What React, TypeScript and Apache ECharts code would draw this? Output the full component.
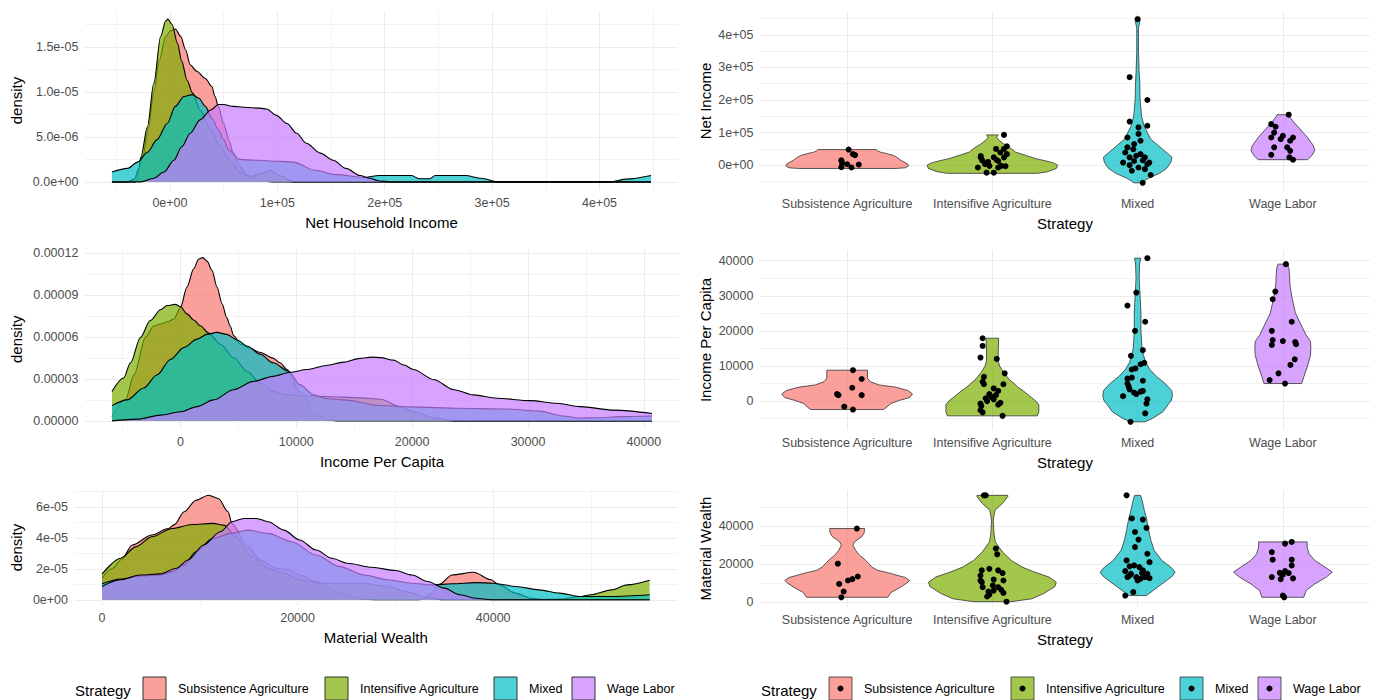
import React, { useEffect, useRef } from 'react';
import * as echarts from 'echarts';

type Pair = [number, number];

const strategies = ['Subsistence Agriculture', 'Intensifive Agriculture', 'Mixed', 'Wage Labor'];
const strategyColors = ['#F8766D', '#7CAE00', '#00BFC4', '#C77CFF'];

// ---- Density curves: [value in thousands, density in units of 1e-5] ----
const netIncomeDensitySubsistence: Pair[] = [
  [-54, 0], [-32, 0], [-25, 0.3], [-20, 0.6], [-15, 1.0], [-10, 1.35], [-4, 1.62], [0.6, 1.68], [5, 1.7],
  [10, 1.62], [14.5, 1.47], [19, 1.3], [25, 1.23], [33, 1.15], [39, 1.06], [42, 0.95], [45, 0.84], [50, 0.65],
  [55, 0.46], [59, 0.32], [65, 0.17], [72, 0.07], [84, 0.02], [95, 0], [448, 0],
];
const netIncomeDensityIntensive: Pair[] = [
  [-54, 0], [-40, 0], [-33, 0.03], [-29, 0.15], [-27, 0.28], [-21, 0.61], [-15, 1.1], [-8.6, 1.62], [-4, 1.79],
  [-2, 1.81], [2, 1.75], [7, 1.54], [11, 1.34], [16, 1.13], [21, 0.99], [28, 0.8], [38, 0.58], [47, 0.39],
  [56, 0.24], [65, 0.11], [75, 0.06], [84, 0.09], [93, 0.13], [102, 0.07], [115, 0], [448, 0],
];
const netIncomeDensityMixed: Pair[] = [
  [-54, 0.11], [-39.5, 0.15], [-30, 0.22], [-21, 0.33], [-12, 0.47], [-2.5, 0.65], [5, 0.84], [13, 0.95], [21, 0.97],
  [27, 0.93], [33, 0.84], [39, 0.71], [45, 0.58], [50, 0.47], [55, 0.35], [65, 0.25], [80, 0.24], [100, 0.23],
  [115, 0.22], [135, 0.13], [155, 0.08], [180, 0.05], [195, 0.07], [225, 0.07], [232, 0.035], [242, 0.035],
  [247, 0.07], [275, 0.07], [290, 0.04], [305, 0], [410, 0], [425, 0.03], [448, 0.07],
];
const netIncomeDensityWage: Pair[] = [
  [-54, 0], [-27, 0], [-15, 0.04], [-5.5, 0.11], [3.7, 0.24], [11, 0.39], [19, 0.54], [28, 0.69], [38, 0.8],
  [45, 0.86], [50, 0.86], [59, 0.84], [69, 0.83], [84, 0.82], [90, 0.81], [99, 0.74], [109, 0.65], [118, 0.54],
  [127, 0.43], [140, 0.32], [152, 0.24], [164, 0.15], [177, 0.07], [186, 0.04], [195, 0.01], [205, 0], [448, 0],
];

const perCapitaDensitySubsistence: Pair[] = [
  [-5.9, 0.3], [-4.74, 1.5], [-4.0, 3.3], [-3.0, 6.0], [-2.3, 6.8], [-1.72, 6.94], [-1.1, 7.1], [-0.57, 7.3],
  [0, 8.1], [0.57, 9.6], [1.15, 10.9], [1.58, 11.6], [1.95, 11.7], [2.3, 11.45], [2.73, 10.8], [3.16, 9.6],
  [3.6, 8.4], [4.0, 7.4], [4.3, 6.8], [4.6, 6.1], [5.2, 5.5], [6.0, 5.2], [6.9, 4.9], [8.0, 4.5], [8.6, 4.16],
  [9.2, 3.68], [10.3, 2.1], [11.5, 0.65], [12.6, 0.05], [13.5, 0], [40.7, 0],
];
const perCapitaDensityIntensive: Pair[] = [
  [-5.9, 2.1], [-4.9, 3.07], [-4.3, 4.16], [-3.45, 5.98], [-2.6, 7.19], [-1.72, 7.96], [-1.15, 8.27], [-0.43, 8.35],
  [0, 8.2], [0.57, 7.67], [1.15, 7.23], [1.72, 6.82], [2.44, 6.29], [3.45, 5.49], [4.6, 4.52], [5.75, 3.56],
  [6.9, 2.71], [8.05, 2.1], [9.2, 1.86], [10.3, 1.8], [12.6, 1.75], [15.5, 1.65], [17.3, 1.55], [19, 1.0],
  [20.1, 0.65], [22, 0.2], [23.6, 0], [40.7, 0],
];
const perCapitaDensityMixed: Pair[] = [
  [-5.9, 1.09], [-4.6, 1.5], [-3.16, 2.35], [-2.0, 3.3], [-0.86, 4.4], [0.29, 5.25], [1.44, 5.86], [2.3, 6.2],
  [3.16, 6.34], [4.0, 6.2], [4.9, 5.8], [5.75, 5.37], [6.9, 4.77], [8.0, 4.16], [9.34, 3.56], [10.3, 2.6],
  [11.5, 1.86], [12.6, 1.6], [14.1, 1.5], [17.3, 1.1], [20, 1.0], [24, 0.9], [28, 0.85], [31, 0.7], [33, 0.35],
  [34.5, 0.2], [36, 0.22], [38, 0.3], [40.7, 0.35],
];
const perCapitaDensityWage: Pair[] = [
  [-5.9, 0], [-3.7, 0.12], [-1.7, 0.41], [0, 0.65], [1.44, 1.02], [2.87, 1.5], [4.6, 2.23], [6.3, 2.83], [8.0, 3.19],
  [9.5, 3.48], [10.9, 3.68], [12.6, 3.97], [14.1, 4.21], [15.5, 4.48], [16.5, 4.57], [17.3, 4.53], [18.4, 4.35],
  [19.3, 4.0], [20.1, 3.68], [21.9, 2.95], [23.6, 2.23], [25.3, 1.86], [27.3, 1.62], [30.2, 1.45], [32.5, 1.26],
  [34.5, 1.02], [37.4, 0.77], [40.7, 0.53],
];

const wealthDensitySubsistence: Pair[] = [
  [0, 1.4], [1, 2.0], [2, 2.6], [3.1, 3.54], [5.1, 4.18], [6.8, 4.6], [7.4, 4.85], [8.4, 5.68], [9.6, 6.43],
  [10.9, 6.75], [11.9, 6.54], [12.9, 5.68], [13.3, 4.9], [14.9, 3.43], [16.2, 2.57], [17.8, 2.04], [19.0, 1.97],
  [20.2, 1.6], [21.9, 1.18], [24.3, 0.43], [26.8, 0.04], [28, 0], [32.5, 0], [33.5, 0.3], [34.5, 1.0], [35.8, 1.6],
  [38.0, 1.78], [39.8, 1.29], [40.6, 0.96], [42.3, 0.43], [43.9, 0.1], [45.5, 0], [56, 0],
];
const wealthDensityIntensive: Pair[] = [
  [0, 1.65], [1.9, 2.68], [3.5, 3.43], [5.1, 4.07], [7.2, 4.6], [9.2, 4.86], [11.3, 4.93], [12.5, 4.82], [13.7, 4.07],
  [15.3, 2.79], [17.0, 2.04], [18.6, 1.71], [20.2, 1.29], [22.3, 1.07], [24.3, 1.07], [26.8, 1.07], [29.2, 0.86],
  [31.3, 0.5], [33, 0.15], [35, 0], [44, 0], [47, 0.05], [48.8, 0.21], [50, 0.32], [52.1, 0.64], [53.7, 0.96],
  [56, 1.26],
];
const wealthDensityMixed: Pair[] = [
  [0, 1.03], [1.9, 1.33], [3.9, 1.54], [6.0, 1.6], [7.2, 1.82], [8.4, 2.25], [9.6, 3.1], [11.3, 3.96], [13.3, 4.3],
  [14.9, 4.5], [17.0, 4.29], [19.4, 3.75], [21.9, 2.89], [24.3, 2.14], [26.8, 1.6], [29.2, 1.29], [31.7, 1.07],
  [33.7, 0.96], [35.8, 1.03], [38.2, 1.11], [40, 1.07], [42.3, 0.86], [44.7, 0.64], [46.8, 0.43], [48.8, 0.21],
  [52.1, 0.21], [56, 0.32],
];
const wealthDensityWage: Pair[] = [
  [0, 0.86], [1.9, 1.29], [3.9, 1.6], [6.0, 1.67], [7.6, 2.04], [8.8, 2.57], [10.4, 3.54], [12.1, 4.39], [13.3, 5.04],
  [14.5, 5.25], [15.8, 5.25], [17.0, 5.04], [18.6, 4.5], [20.2, 3.86], [21.9, 3.21], [23.5, 2.68], [25.1, 2.36],
  [27.6, 2.1], [30.0, 1.89], [31.7, 1.6], [33.3, 1.18], [35.0, 0.75], [36.6, 0.32], [38.2, 0.1], [39.8, 0], [56, 0],
];

// ---- Violin outlines: [value in thousands, half width in category units] ----
const netIncomeViolinSubsistence: Pair[] = [
  [-10, 0.33], [-8, 0.4], [-3, 0.42], [2, 0.42], [8, 0.4], [15, 0.37], [22, 0.35], [30, 0.32], [36, 0.27],
  [40, 0.23], [44, 0.21], [48, 0.2],
];
const netIncomeViolinIntensive: Pair[] = [
  [-25, 0.31], [-20, 0.38], [-10, 0.44], [0, 0.45], [7, 0.42], [13, 0.37], [20, 0.3], [30, 0.23], [40, 0.16],
  [54, 0.12], [65, 0.08], [75, 0.05], [85, 0.03], [90, 0.035], [93, 0.04],
];
const netIncomeViolinMixed: Pair[] = [
  [-54, 0.03], [-50, 0.035], [-40, 0.075], [-25, 0.15], [-10, 0.2], [10, 0.23], [25, 0.235], [50, 0.17],
  [80, 0.09], [120, 0.045], [150, 0.027], [200, 0.017], [250, 0.015], [290, 0.01], [350, 0.006], [420, 0.006],
  [440, 0.015], [448, 0.015],
];
const netIncomeViolinWage: Pair[] = [
  [17, 0.17], [30, 0.2], [45, 0.22], [60, 0.21], [85, 0.17], [100, 0.14], [120, 0.1], [135, 0.07], [150, 0.045],
  [155, 0.04],
];

const perCapitaViolinSubsistence: Pair[] = [
  [-2.4, 0.25], [-1.8, 0.27], [-0.7, 0.3], [0.2, 0.36], [1.0, 0.43], [2.0, 0.45], [3.0, 0.42], [4.0, 0.33],
  [4.6, 0.22], [5.5, 0.16], [6.5, 0.14], [8.8, 0.14],
];
const perCapitaViolinIntensive: Pair[] = [
  [-4.2, 0.31], [-3, 0.32], [-1, 0.32], [0, 0.3], [1, 0.27], [2, 0.24], [3, 0.21], [4, 0.175], [5, 0.15], [6, 0.12],
  [7, 0.1], [8, 0.08], [9, 0.065], [10, 0.05], [11, 0.043], [12, 0.04], [14, 0.04], [16, 0.042], [17.9, 0.043],
];
const perCapitaViolinMixed: Pair[] = [
  [-5.9, 0.05], [-5, 0.1], [-3, 0.175], [-1, 0.21], [0, 0.23], [1.5, 0.24], [3, 0.235], [5, 0.19], [7, 0.13],
  [9, 0.084], [11, 0.056], [13, 0.041], [15, 0.03], [20, 0.023], [25, 0.023], [30, 0.017], [35, 0.011],
  [39, 0.014], [40.7, 0.021],
];
const perCapitaViolinWage: Pair[] = [
  [5.0, 0.13], [7, 0.145], [10, 0.17], [13, 0.19], [15, 0.193], [17, 0.19], [19, 0.157], [21, 0.134], [25, 0.087],
  [29, 0.065], [33, 0.049], [36, 0.046], [38, 0.041], [39, 0.033],
];

const wealthViolinSubsistence: Pair[] = [
  [2.6, 0.28], [5, 0.3], [8, 0.37], [10, 0.41], [11.4, 0.43], [13, 0.4], [14, 0.35], [15.5, 0.28], [16.7, 0.21],
  [18.5, 0.17], [20.2, 0.15], [22.5, 0.12], [24.6, 0.085], [27, 0.06], [29.8, 0.04], [31.5, 0.05], [33, 0.075],
  [34.2, 0.1], [36, 0.115], [37.7, 0.12], [38.6, 0.12],
];
const wealthViolinIntensive: Pair[] = [
  [0.3, 0.13], [1.8, 0.27], [4.4, 0.35], [8.2, 0.43], [10.5, 0.44], [13.2, 0.39], [15.8, 0.29], [18.4, 0.205],
  [21.9, 0.13], [26.3, 0.07], [31.6, 0.02], [36, 0.011], [43, 0.006], [48.2, 0.018], [51.8, 0.07], [55.3, 0.106],
  [56, 0.106],
];
const wealthViolinMixed: Pair[] = [
  [3.5, 0.06], [7.9, 0.137], [11.4, 0.2], [14, 0.243], [15.8, 0.258], [18.4, 0.228], [21.9, 0.167], [27.2, 0.114],
  [32.5, 0.091], [37.7, 0.076], [43.9, 0.061], [48.2, 0.046], [53.5, 0.03], [56, 0.02],
];
const wealthViolinWage: Pair[] = [
  [2.6, 0.144], [6.1, 0.16], [9.6, 0.22], [13.2, 0.3], [15.8, 0.34], [18.4, 0.29], [21.9, 0.22], [25.4, 0.18],
  [28.9, 0.167], [31.6, 0.167],
];

// ---- Jittered households: [horizontal jitter in category units, value in thousands] ----
const netIncomePointsSubsistence: Pair[] = [
  [0.01, 48], [-0.04, 15], [-0.035, 7], [0.04, 34], [0.055, 31], [0, 3], [0.03, -7], [-0.04, -6], [0.08, 2],
];
const netIncomePointsIntensive: Pair[] = [
  [-0.08, 24], [-0.07, 15], [-0.1, -7], [-0.04, -23], [0.01, -23], [0.04, -7], [0.09, -3], [0.08, 50], [0.055, 39],
  [0.025, 50], [0.08, 93], [0.1, 58], [0.01, 24], [0.04, 13], [-0.02, -2], [-0.05, 3], [-0.08, 28], [0.1, 34],
  [0.08, 24], [0.03, 16], [0.06, -2], [-0.03, 10],
];
const netIncomePointsMixed: Pair[] = [
  [0.035, -54], [0.09, -30], [-0.055, 270], [0.067, 200], [-0.055, 134], [0.067, 121], [0, 448], [0.006, 116],
  [0.006, 96], [-0.024, 65], [-0.07, 55], [-0.085, 39], [-0.055, 24], [-0.1, 8], [-0.024, 13], [0.02, 34],
  [0.036, 15], [0.067, 3], [0.006, -7], [0.05, -12], [-0.04, -17], [0.08, 8], [-0.055, 0], [-0.01, 29],
  [0.05, 24], [-0.07, 85], [0.02, 75], [-0.03, 49],
];
const netIncomePointsWage: Pair[] = [
  [0.04, 155], [-0.08, 126], [-0.05, 118], [-0.06, 100], [-0.08, 85], [0, 90], [0.07, 85], [-0.015, 80],
  [0.05, 75], [-0.06, 55], [0.03, 55], [0.05, 44], [-0.08, 32], [0.045, 24], [0.07, 17],
];

const perCapitaPointsSubsistence: Pair[] = [
  [0.04, 8.8], [0.1, 6.3], [0.035, 3.8], [-0.07, 2.0], [-0.06, 1.7], [0.1, 1.7], [-0.02, -1.6], [0.04, -2.4],
];
const perCapitaPointsIntensive: Pair[] = [
  [-0.067, 17.9], [-0.067, 15.7], [-0.082, 12.4], [0.03, 12.0], [0.085, 7.9], [-0.058, 6.9], [-0.067, 5.5],
  [-0.058, 4.8], [0.076, 4.8], [0.009, 3.6], [0.04, 2.9], [-0.021, 2.0], [-0.006, 1.2], [-0.046, 0.8],
  [-0.082, -0.7], [-0.076, -1.4], [-0.082, -2.6], [-0.067, -3.2], [0.07, -4.2], [0.04, -1.0], [0.055, -0.5],
  [0.009, 0.5], [-0.036, 0], [0.024, 1.7],
];
const perCapitaPointsMixed: Pair[] = [
  [0.067, 40.7], [-0.009, 30.9], [-0.07, 27.2], [0.052, 22.6], [-0.018, 20.0], [0.036, 14.5], [-0.046, 12.9],
  [0.046, 10.9], [0.021, 10.5], [-0.015, 9.3], [-0.04, 9.0], [-0.07, 6.4], [-0.04, 6.7], [-0.07, 5.0],
  [-0.061, 4.1], [-0.055, 3.3], [0.036, 5.8], [-0.024, 2.4], [0.036, 2.9], [-0.1, 1.4], [-0.009, 2.0],
  [0.067, 0.5], [0.061, -0.7], [0.052, -3.5], [-0.049, -5.9], [0.021, 2.7],
];
const perCapitaPointsWage: Pair[] = [
  [0.021, 39.0], [-0.052, 31.2], [-0.07, 29.0], [0.061, 22.6], [-0.076, 20.0], [-0.07, 17.4], [-0.076, 16.0],
  [0, 17.1], [0.085, 16.8], [0.091, 16.2], [0.082, 11.9], [0.052, 10.3], [-0.03, 7.9], [-0.091, 6.0], [0.015, 5.0],
];

const wealthPointsSubsistence: Pair[] = [
  [0.067, 38.6], [-0.064, 20.2], [-0.055, 9.6], [-0.024, 5.6], [-0.04, 2.6], [0.006, 11.4], [0.036, 12.1],
  [0.073, 13.5],
];
const wealthPointsIntensive: Pair[] = [
  [-0.058, 56], [-0.046, 56], [0.024, 28.1], [0.033, 25.1], [-0.073, 16.7], [-0.021, 17.5], [0.04, 16.7],
  [-0.082, 14.0], [0.07, 15.3], [-0.073, 10.5], [0.009, 11.9], [0.076, 11.4], [-0.067, 7.9], [0.04, 7.9],
  [-0.027, 5.6], [0.009, 6.1], [0.061, 6.5], [0.076, 4.9], [-0.021, 4.0], [-0.036, 3.0], [0.097, 0.3],
  [-0.082, 11.4], [0.003, 8.8],
];
const wealthPointsMixed: Pair[] = [
  [-0.076, 56], [-0.04, 43.9], [0.036, 43.3], [-0.018, 36.8], [0.061, 38.9], [0.006, 32.8], [-0.018, 28.9],
  [0.067, 25.4], [0.082, 21.0], [-0.076, 21.9], [-0.055, 18.8], [-0.024, 19.3], [0.012, 18.4], [-0.085, 16.3],
  [0.036, 16.7], [0.067, 14.9], [-0.055, 14.0], [-0.009, 13.2], [0.052, 13.2], [0.082, 12.6], [0, 11.4],
  [0.021, 12.3], [-0.085, 3.5], [-0.03, 5.3], [-0.046, 14.9], [0.03, 15.3], [-0.07, 13.2],
];
const wealthPointsWage: Pair[] = [
  [0.061, 31.6], [0.015, 30.7], [-0.076, 26.3], [-0.07, 22.3], [0.061, 22.3], [0.061, 19.3], [0.015, 16.3],
  [-0.021, 15.4], [0.04, 15.3], [0, 14.4], [-0.076, 13.2], [-0.015, 12.1], [0.07, 12.5], [0, 3.5], [0.009, 2.6],
];

// ---- Tick positions (same units as the data) and their labels ----
const netIncomeTicks = [0, 100, 200, 300, 400];
const netIncomeTickLabels = ['0e+00', '1e+05', '2e+05', '3e+05', '4e+05'];
const perCapitaTicks = [0, 10, 20, 30, 40];
const perCapitaTickLabels = ['0', '10000', '20000', '30000', '40000'];
const wealthTicks = [0, 20, 40];
const wealthTickLabels = ['0', '20000', '40000'];
const netIncomeDensityTicks = [0, 0.5, 1.0, 1.5];
const netIncomeDensityTickLabels = ['0.0e+00', '5.0e-06', '1.0e-05', '1.5e-05'];
const perCapitaDensityTicks = [0, 3, 6, 9, 12];
const perCapitaDensityTickLabels = ['0.00000', '0.00003', '0.00006', '0.00009', '0.00012'];
const wealthDensityTicks = [0, 2, 4, 6];
const wealthDensityTickLabels = ['0e+00', '2e-05', '4e-05', '6e-05'];
const strategyTicks = [0, 1, 2, 3];

const FONT = '"Liberation Sans", Arial, Helvetica, sans-serif';
const MAJOR_GRID = '#EBEBEB';
const MINOR_GRID = '#F3F3F3';
const TICK_TEXT = '#4D4D4D';

function rgba(hex: string, a: number) {
  const n = parseInt(hex.slice(1), 16);
  return `rgba(${(n >> 16) & 255},${(n >> 8) & 255},${n & 255},${a})`;
}

function padded(lo: number, hi: number): [number, number] {
  const pad = (hi - lo) * 0.05;
  return [lo - pad, hi + pad];
}

// Major lines at the ticks, minor lines half-way between (theme_minimal style).
function gridLines(majors: number[], min: number, max: number, withMinor: boolean) {
  const step = majors[1] - majors[0];
  const sub = withMinor ? step / 2 : step;
  const first = majors[0] - step * (Math.floor((majors[0] - min) / step) + 1);
  const values: number[] = [];
  const colors: string[] = [];
  for (let k = 0; k < 200; k++) {
    const v = +(first + k * sub).toFixed(6);
    if (v >= max) break;
    if (v <= min) continue;
    values.push(v);
    colors.push(!withMinor || k % 2 === 0 ? MAJOR_GRID : MINOR_GRID);
  }
  return { values, colors };
}

function tickFormatter(ticks: number[], labels: string[]) {
  return (v: number) => {
    const i = ticks.findIndex((t) => Math.abs(t - v) < 1e-6);
    return i < 0 ? '' : labels[i];
  };
}

function valueAxis(o: {
  gridIndex: number; min: number; max: number; ticks: number[]; labels: string[];
  name: string; nameGap: number; vertical: boolean; minor: boolean;
}) {
  const g = gridLines(o.ticks, o.min, o.max, o.minor);
  return {
    type: 'value',
    gridIndex: o.gridIndex,
    min: o.min,
    max: o.max,
    name: o.name,
    nameLocation: 'middle',
    nameGap: o.nameGap,
    nameRotate: o.vertical ? 90 : 0,
    nameTextStyle: { color: '#000', fontSize: 15, fontFamily: FONT },
    axisLine: { show: false },
    axisTick: { show: false, customValues: g.values },
    splitLine: { show: true, lineStyle: { color: g.colors, width: 1 } },
    axisLabel: {
      customValues: o.ticks,
      formatter: tickFormatter(o.ticks, o.labels),
      color: TICK_TEXT,
      fontSize: 12.5,
      fontFamily: FONT,
      margin: 6.6,
    },
  };
}

const grids = [
  { left: 85, top: 11, width: 593, height: 179 },
  { left: 85, top: 249.5, width: 594, height: 179.5 },
  { left: 74.6, top: 490, width: 602.4, height: 115 },
  { left: 760, top: 11, width: 610, height: 180 },
  { left: 760, top: 250, width: 610, height: 180 },
  { left: 760, top: 490, width: 610, height: 117 },
];

const densityPanels = [
  {
    curves: [netIncomeDensitySubsistence, netIncomeDensityIntensive, netIncomeDensityMixed, netIncomeDensityWage],
    xTicks: netIncomeTicks, xLabels: netIncomeTickLabels,
    yTicks: netIncomeDensityTicks, yLabels: netIncomeDensityTickLabels,
    xName: 'Net Household Income', yGap: 61,
  },
  {
    curves: [perCapitaDensitySubsistence, perCapitaDensityIntensive, perCapitaDensityMixed, perCapitaDensityWage],
    xTicks: perCapitaTicks, xLabels: perCapitaTickLabels,
    yTicks: perCapitaDensityTicks, yLabels: perCapitaDensityTickLabels,
    xName: 'Income Per Capita', yGap: 61,
  },
  {
    curves: [wealthDensitySubsistence, wealthDensityIntensive, wealthDensityMixed, wealthDensityWage],
    xTicks: wealthTicks, xLabels: wealthTickLabels,
    yTicks: wealthDensityTicks, yLabels: wealthDensityTickLabels,
    xName: 'Material Wealth', yGap: 51,
  },
];

const violinPanels = [
  {
    shapes: [netIncomeViolinSubsistence, netIncomeViolinIntensive, netIncomeViolinMixed, netIncomeViolinWage],
    points: [netIncomePointsSubsistence, netIncomePointsIntensive, netIncomePointsMixed, netIncomePointsWage],
    yTicks: netIncomeTicks, yLabels: netIncomeTickLabels, yName: 'Net Income',
  },
  {
    shapes: [perCapitaViolinSubsistence, perCapitaViolinIntensive, perCapitaViolinMixed, perCapitaViolinWage],
    points: [perCapitaPointsSubsistence, perCapitaPointsIntensive, perCapitaPointsMixed, perCapitaPointsWage],
    yTicks: perCapitaTicks, yLabels: perCapitaTickLabels, yName: 'Income Per Capita',
  },
  {
    shapes: [wealthViolinSubsistence, wealthViolinIntensive, wealthViolinMixed, wealthViolinWage],
    points: [wealthPointsSubsistence, wealthPointsIntensive, wealthPointsMixed, wealthPointsWage],
    yTicks: wealthTicks, yLabels: wealthTickLabels, yName: 'Material Wealth',
  },
];

function legendGraphics(x0: number, withDot: boolean) {
  const keyOffsets = [68, 250, 419, 497];
  const els: any[] = [
    {
      type: 'text', x: x0, y: 690,
      style: { text: 'Strategy', fontSize: 15, fontFamily: FONT, fill: '#000', verticalAlign: 'middle', align: 'left' },
    },
  ];
  strategies.forEach((name, i) => {
    const kx = x0 + keyOffsets[i];
    els.push({
      type: 'rect',
      shape: { x: kx, y: 677, width: 23, height: 23 },
      style: { fill: rgba(strategyColors[i], 0.7), stroke: '#333333', lineWidth: withDot ? 0.8 : 1 },
    });
    if (withDot) {
      els.push({ type: 'circle', shape: { cx: kx + 11.5, cy: 688.5, r: 3 }, style: { fill: '#000' } });
    }
    els.push({
      type: 'text', x: kx + 35, y: 689,
      style: { text: name, fontSize: 12.5, fontFamily: FONT, fill: '#000', verticalAlign: 'middle', align: 'left' },
    });
  });
  return els;
}

function buildOption() {
  const xAxis: any[] = [];
  const yAxis: any[] = [];
  const series: any[] = [];

  densityPanels.forEach((p, gi) => {
    const xs = p.curves.flatMap((c) => c.map((d) => d[0]));
    const ys = p.curves.flatMap((c) => c.map((d) => d[1]));
    const [xMin, xMax] = padded(Math.min(...xs), Math.max(...xs));
    const [yMin, yMax] = padded(0, Math.max(...ys));
    xAxis.push(valueAxis({
      gridIndex: gi, min: xMin, max: xMax, ticks: p.xTicks, labels: p.xLabels,
      name: p.xName, nameGap: 25, vertical: false, minor: true,
    }));
    yAxis.push(valueAxis({
      gridIndex: gi, min: yMin, max: yMax, ticks: p.yTicks, labels: p.yLabels,
      name: 'density', nameGap: p.yGap, vertical: true, minor: true,
    }));
    // each group sits on its own z layer so later fills veil earlier outlines
    p.curves.forEach((curve, si) => {
      series.push({
        type: 'line',
        name: strategies[si],
        xAxisIndex: gi,
        yAxisIndex: gi,
        data: curve,
        smooth: 0.3,
        smoothMonotone: 'x',
        showSymbol: false,
        symbol: 'none',
        silent: true,
        lineStyle: { color: '#000', width: 1.1 },
        areaStyle: { color: rgba(strategyColors[si], 0.7), opacity: 1, origin: 'auto' },
        z: 2 + si,
      });
    });
  });

  violinPanels.forEach((p, vi) => {
    const gi = vi + 3;
    const ys = p.shapes.flatMap((s) => s.map((d) => d[0])).concat(p.points.flatMap((s) => s.map((d) => d[1])));
    const [yMin, yMax] = padded(Math.min(...ys), Math.max(...ys));
    xAxis.push(valueAxis({
      gridIndex: gi, min: -0.6, max: strategies.length - 0.4, ticks: strategyTicks, labels: strategies,
      name: 'Strategy', nameGap: 25, vertical: false, minor: false,
    }));
    yAxis.push(valueAxis({
      gridIndex: gi, min: yMin, max: yMax, ticks: p.yTicks, labels: p.yLabels,
      name: p.yName, nameGap: 47, vertical: true, minor: true,
    }));
    const shapes = p.shapes;
    series.push({
      type: 'custom',
      xAxisIndex: gi,
      yAxisIndex: gi,
      silent: true,
      clip: false,
      data: shapes.map((s, i) => [i, s[0][0]]),
      renderItem: (params: any, api: any) => {
        const i = params.dataIndex;
        const shape = shapes[i];
        const pts: number[][] = [];
        shape.forEach(([y, hw]) => pts.push(api.coord([i + hw, y])));
        for (let k = shape.length - 1; k >= 0; k--) pts.push(api.coord([i - shape[k][1], shape[k][0]]));
        return {
          type: 'polygon',
          shape: { points: pts },
          style: { fill: rgba(strategyColors[i], 0.7), stroke: '#333333', lineWidth: 0.8 },
        };
      },
      z: 2,
    });
    series.push({
      type: 'scatter',
      xAxisIndex: gi,
      yAxisIndex: gi,
      silent: true,
      symbolSize: 6,
      itemStyle: { color: '#000', opacity: 1 },
      data: p.points.flatMap((pts, i) => pts.map(([dx, y]) => [i + dx, y])),
      z: 3,
    });
  });

  return {
    animation: false,
    backgroundColor: '#ffffff',
    textStyle: { fontFamily: FONT },
    grid: grids,
    xAxis,
    yAxis,
    series,
    graphic: [...legendGraphics(75, false), ...legendGraphics(761, true)],
  };
}

export default function App() {
  const ref = useRef<HTMLDivElement>(null);
  useEffect(() => {
    if (!ref.current) return;
    const chart = echarts.init(ref.current, undefined, { renderer: 'svg' });
    chart.setOption(buildOption() as any);
    return () => chart.dispose();
  }, []);
  return (
    <div
      ref={ref}
      style={{ position: 'fixed', left: 0, top: 0, width: 1375, height: 700, background: '#fff' }}
    />
  );
}
